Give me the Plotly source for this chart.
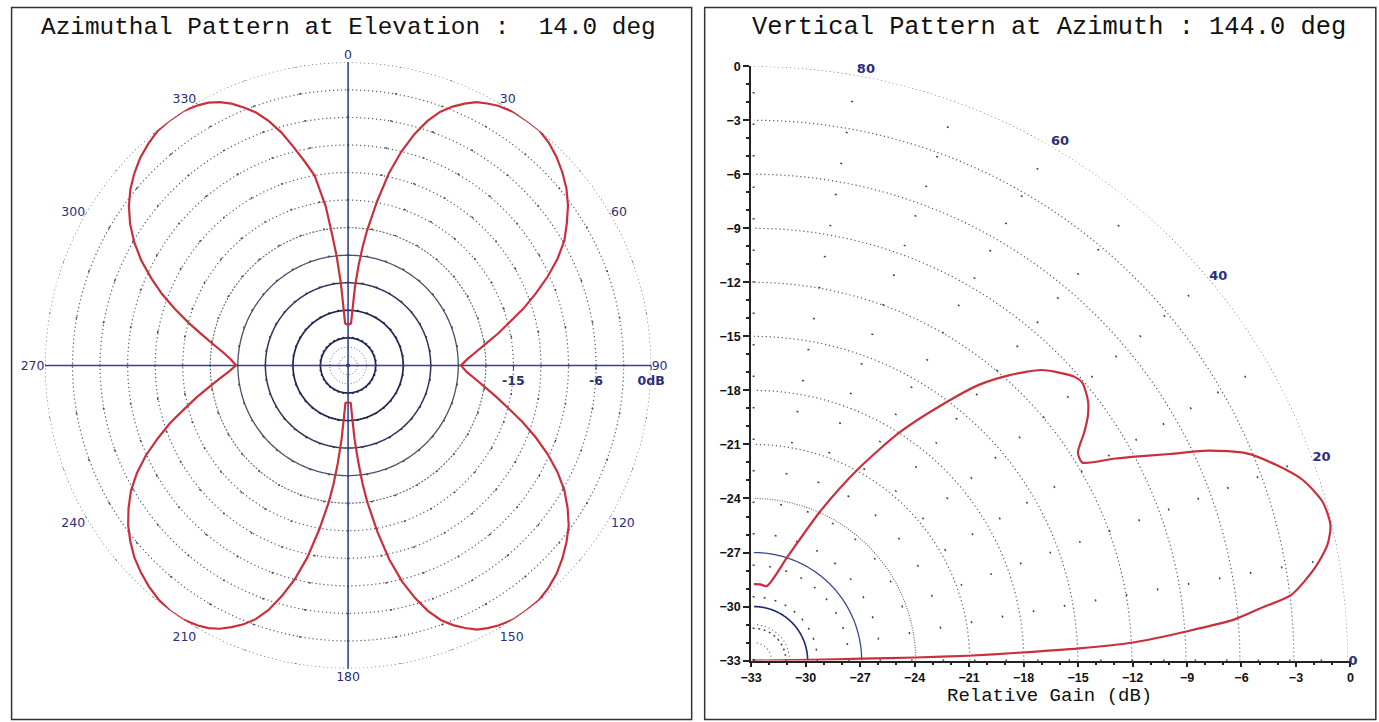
import numpy as np
import plotly.graph_objects as go

# ---------------- data ----------------
# Azimuthal pattern at elevation 14 deg (azimuth deg, relative gain dB)
az_deg = [0, 4, 5, 6, 7, 8, 10, 12, 14, 16, 18, 20, 22, 24, 26, 28, 30, 33, 36, 39,
          42, 45, 48, 51, 54, 57, 60, 63, 66, 69, 72, 75, 78, 81, 84, 87, 90,
          93, 96, 99, 102, 105, 108, 111, 114, 117, 120, 123, 126, 129, 132, 135, 138,
          141, 144, 147, 150, 152, 154, 156, 158, 160, 162, 164, 166, 168, 170, 172,
          173, 174, 175, 176, 180,
          184, 185, 186, 187, 188, 190, 192, 194, 196, 198, 200, 202, 204, 206, 208,
          210, 213, 216, 219, 222, 225, 228, 231, 234, 237, 240, 243, 246, 249, 252,
          255, 258, 261, 264, 267, 270,
          273, 276, 279, 282, 285, 288, 291, 294, 297, 300, 303, 306, 309, 312, 315,
          318, 321, 324, 327, 330, 332, 334, 336, 338, 340, 342, 344, 346, 348, 350,
          352, 353, 354, 355, 356, 360]
az_gain = [-28.6, -28.4, -24.5, -22.0, -20.0, -18.2, -14.9, -11.6, -9.0, -6.8, -5.0, -3.6,
           -2.6, -1.8, -1.1, -0.7, -0.35, -0.05, 0.0, 0.0,
           -0.35, -0.9, -1.6, -2.4, -3.4, -4.6, -5.8, -7.4, -9.2, -11.1, -12.9, -14.8,
           -16.3, -17.8, -19.0, -20.0, -20.7,
           -20.1, -19.1, -17.9, -16.5, -14.9, -13.0, -11.1, -9.2, -7.4, -5.8, -4.5, -3.3,
           -2.4, -1.6, -0.9, -0.4, -0.05, 0.0, 0.0, -0.3, -0.6, -1.0, -1.7, -2.5, -3.5,
           -4.9, -6.7, -8.8, -11.4, -14.6, -18.0, -20.0, -22.5, -25.0, -28.9, -29.0,
           -28.9, -25.0, -22.3, -20.0, -18.0, -14.8, -11.6, -9.0, -6.9, -5.0, -3.6, -2.6,
           -1.8, -1.1, -0.6, -0.3, 0.0, 0.0, -0.2, -0.6, -1.1, -1.7, -2.5, -3.4, -4.5,
           -5.7, -7.2, -8.9, -10.8, -12.6, -14.5, -16.1, -17.6, -18.9, -20.0, -20.8,
           -20.2, -19.3, -18.1, -16.7, -15.0, -13.2, -11.3, -9.5, -7.7, -6.1, -4.7, -3.5,
           -2.5, -1.7, -1.0, -0.5, -0.1, 0.0, 0.0, -0.3, -0.6, -1.1, -1.8, -2.7, -3.7,
           -5.0, -6.6, -8.5, -10.3, -12.0, -15.5, -18.5, -21.0, -24.0, -28.4, -28.6]

# Vertical pattern at azimuth 144 deg (elevation deg, relative gain dB)
el_deg = [0.0, 0.7, 1.05, 1.1, 1.3, 1.7, 2.15, 2.7, 3.9, 4.9, 5.9, 7.0, 9.4, 11.4, 13.2,
          15.6, 18.2, 20.5, 22.8, 24.8, 26.4, 28.3, 29.3, 31.1, 32.7, 34.6, 36.2, 37.8,
          40.2, 41.4, 43.7, 45.3, 48.1, 50.7, 53.0, 57.3, 61.4, 65.9, 71.8, 80.0, 85.0, 90.0]
el_gain = [-33.0, -29.9, -27.0, -24.0, -21.1, -18.3, -14.9, -12.0, -8.8, -6.2, -4.7, -2.9,
           -1.4, -0.5, -0.1, -0.2, -0.9, -2.0, -3.3, -5.2, -7.2, -9.15, -10.1, -11.7,
           -11.6, -10.7, -10.0, -9.5, -9.1, -9.2, -9.8, -10.3, -11.7, -13.2, -14.9, -17.9,
           -20.9, -23.9, -26.9, -28.8, -28.75, -28.75]

ring_db = [-32, -31, -30, -27, -24, -21, -18, -15, -12, -9, -6, -3, 0]
gain_ticks = [-33, -30, -27, -24, -21, -18, -15, -12, -9, -6, -3, 0]
az_spokes = list(range(0, 360, 10))
az_labels = [str(a) if a % 30 == 0 else "" for a in az_spokes]
el_spokes = list(range(0, 91, 10))
el_labels = [str(a) if a % 20 == 0 and a < 90 else "" for a in el_spokes]
radial_label_vals = [-15, -6, 0]
radial_label_text = ["-15", "-6", "0dB"]

# ---------------- styles ----------------
NAVY = "#2b2f7a"
CURVE = "#c9303c"
left_ring_style = {
    -32: ("#4a5aa8", "1px,2px", 1.0), -31: ("#4a5aa8", "1px,2px", 1.0),
    -30: ("#1c2452", "solid", 1.7), -27: ("#1c2452", "solid", 1.7),
    -24: ("#2d3659", "solid", 1.5), -21: ("#4b4f68", "solid", 1.3),
    -18: ("#5f6b6a", "2px,1.5px", 1.1),
}
right_ring_style = {
    -32: ("#555", "1px,3px", 1.1), -31: ("#555", "1px,3px", 1.1),
    -30: ("#1c2c6a", "solid", 1.6), -27: ("#3b4a8c", "solid", 1.3),
    -24: ("#5f5f6a", "1px,1.5px", 1.1),
}
default_ring = ("#545872", "1.2px,2.8px", 1.2)

# ---------------- layout geometry (target positions in screen px) ----------------
W, H = 1386, 729
SX, OX = 0.9875, 9.5     # screen = OX + SX * figure_px  (measured)
SY, OY = 0.978, 7.6


def fx(x_img):
    return (x_img - OX) / SX


def fy(y_img):
    return (y_img - OY) / SY


def px(x_img):
    return fx(x_img) / W


def py(y_img):
    return 1 - fy(y_img) / H


def square_domain(cx_img, cy_img, side_fig):
    cx, cy = fx(cx_img), fy(cy_img)
    return ([(cx - side_fig / 2) / W, (cx + side_fig / 2) / W],
            [1 - (cy + side_fig / 2) / H, 1 - (cy - side_fig / 2) / H])


L_DOM_X, L_DOM_Y = square_domain(346, 365, 618)
R_DOM_X, R_DOM_Y = square_domain(1047.5, 363, 606)

fig = go.Figure()
circle = np.arange(0, 361, 1)
quarter = np.arange(0, 90.5, 0.5)

# left polar rings
for db in ring_db:
    c, d, w = left_ring_style.get(db, default_ring)
    fig.add_trace(go.Scatterpolar(r=[db] * len(circle), theta=circle, mode="lines",
                                  line=dict(color=c, dash=d, width=w), subplot="polar",
                                  hoverinfo="skip", showlegend=False))
# cross axes
for a, b in [(0, 180), (90, 270)]:
    fig.add_trace(go.Scatterpolar(r=[0, -33, 0], theta=[a, a, b], mode="lines",
                                  line=dict(color="#3a3f9a", width=1.6), subplot="polar",
                                  hoverinfo="skip", showlegend=False))
fig.add_trace(go.Scatterpolar(r=az_gain, theta=az_deg, mode="lines",
                              line=dict(color=CURVE, width=2.2), subplot="polar",
                              showlegend=False))

# right polar rings
for db in ring_db:
    c, d, w = right_ring_style.get(db, default_ring)
    fig.add_trace(go.Scatterpolar(r=[db] * len(quarter), theta=quarter, mode="lines",
                                  line=dict(color=c, dash=d, width=w), subplot="polar2",
                                  hoverinfo="skip", showlegend=False))
fig.add_trace(go.Scatterpolar(r=el_gain, theta=el_deg, mode="lines",
                              line=dict(color=CURVE, width=2.2, shape="spline",
                                        smoothing=0.7),
                              subplot="polar2", showlegend=False))
# invisible trace so the cartesian axes are drawn
fig.add_trace(go.Scatter(x=[gain_ticks[0], gain_ticks[-1]], y=[gain_ticks[0], gain_ticks[-1]],
                         mode="markers", marker=dict(opacity=0), hoverinfo="skip",
                         showlegend=False))

tickfont_bold = dict(family="Liberation Sans", size=12.5, color="#111", weight="bold")

fig.update_layout(
    width=W, height=H, margin=dict(l=0, r=0, t=0, b=0),
    paper_bgcolor="white", plot_bgcolor="rgba(0,0,0,0)",
    polar=dict(
        domain=dict(x=L_DOM_X, y=L_DOM_Y), bgcolor="rgba(0,0,0,0)",
        angularaxis=dict(rotation=90, direction="clockwise", tickmode="array",
                         tickvals=az_spokes, ticktext=az_labels, showline=False,
                         ticks="", showgrid=True, gridcolor="#444", gridwidth=1.5,
                         griddash="1.5px,26px",
                         tickfont=dict(family="DejaVu Sans", size=12.5, color=NAVY)),
        radialaxis=dict(range=[-33, 0], showgrid=False, showline=False, angle=0,
                        side="clockwise", tickmode="array", tickvals=radial_label_vals,
                        ticktext=radial_label_text, ticks="outside", ticklen=4,
                        tickcolor=NAVY, tickangle=0,
                        tickfont=dict(family="DejaVu Sans", size=12.5, color=NAVY,
                                      weight="bold")),
    ),
    polar2=dict(
        domain=dict(x=R_DOM_X, y=R_DOM_Y), bgcolor="rgba(0,0,0,0)", sector=[0, 90],
        angularaxis=dict(rotation=0, direction="counterclockwise", tickmode="array",
                         tickvals=el_spokes, ticktext=el_labels, showline=False,
                         ticks="", showgrid=True, gridcolor="#444", gridwidth=1.5,
                         griddash="1.5px,30px",
                         tickfont=dict(family="DejaVu Sans", size=13, color=NAVY,
                                       weight="bold")),
        radialaxis=dict(range=[-33, 0], showgrid=False, showline=False,
                        showticklabels=False, ticks=""),
    ),
    xaxis=dict(domain=R_DOM_X, range=[-33, 0], tickmode="array", tickvals=gain_ticks,
               showgrid=False, zeroline=False, showline=True, linecolor="#222",
               linewidth=1.5, ticks="outside", ticklen=5, tickwidth=1.5, tickcolor="#222",
               minor=dict(dtick=1, ticks="outside", ticklen=3, tickcolor="#222"),
               tickfont=tickfont_bold),
    yaxis=dict(domain=R_DOM_Y, range=[-33, 0], tickmode="array", tickvals=gain_ticks,
               showgrid=False, zeroline=False, showline=True, linecolor="#222",
               linewidth=1.5, ticks="outside", ticklen=6, tickwidth=1.5, tickcolor="#222",
               minor=dict(dtick=1, ticks="outside", ticklen=3, tickcolor="#222"),
               tickfont=tickfont_bold),
    annotations=[
        dict(text="Azimuthal Pattern at Elevation :  14.0 deg", x=px(346), y=py(28),
             xref="paper", yref="paper", showarrow=False, xanchor="center", yanchor="middle",
             font=dict(family="Liberation Mono", size=24.4, color="#111")),
        dict(text="Vertical Pattern at Azimuth : 144.0 deg", x=px(1046), y=py(28),
             xref="paper", yref="paper", showarrow=False, xanchor="center", yanchor="middle",
             font=dict(family="Liberation Mono", size=25.4, color="#111")),
        dict(text="Relative Gain (dB)", x=px(1046), y=py(695),
             xref="paper", yref="paper", showarrow=False, xanchor="center", yanchor="middle",
             font=dict(family="Liberation Mono", size=19, color="#111")),
    ],
    shapes=[
        dict(type="rect", xref="paper", yref="paper", x0=0.6 / W, x1=px(689),
             y0=py(718), y1=1 - 0.6 / H, line=dict(color="#333", width=1.5)),
        dict(type="rect", xref="paper", yref="paper", x0=px(702), x1=px(1372),
             y0=py(718), y1=1 - 0.6 / H, line=dict(color="#333", width=1.5)),
    ],
)

fig.write_html("out.html", config={"displayModeBar": False},
               post_script="document.body.style.margin='0px';"
                           "document.body.style.overflow='hidden';"
                           "document.documentElement.style.overflow='hidden';")
